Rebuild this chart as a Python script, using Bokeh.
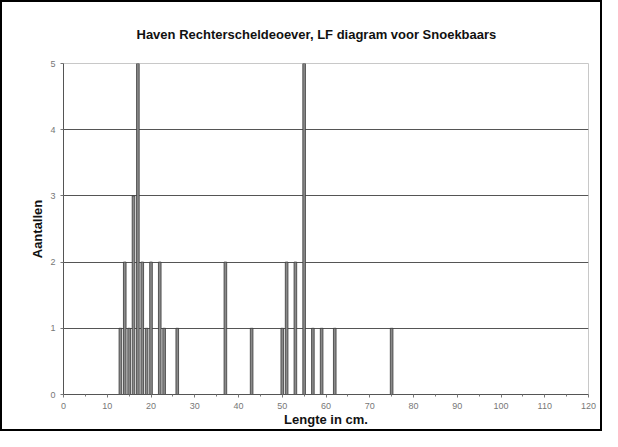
from bokeh.plotting import figure
from bokeh.models import ColumnDataSource, FixedTicker, Range1d
from bokeh.embed import file_html
from bokeh.resources import INLINE

lengths = [13, 14, 15, 16, 17, 18, 19, 20, 22, 23, 26, 37, 43, 50, 51, 53, 55, 57, 59, 62, 75]
counts = [1, 2, 1, 3, 5, 2, 1, 2, 2, 1, 1, 2, 1, 1, 2, 2, 5, 1, 1, 1, 1]
x_ticks = list(range(0, 121, 10))
y_ticks = [0, 1, 2, 3, 4, 5]

FONT = "Liberation Sans"

p = figure(width=602, height=431, output_backend="svg", toolbar_location=None,
           x_range=Range1d(0, 120), y_range=Range1d(0, 5),
           title="Haven Rechterscheldeoever, LF diagram voor Snoekbaars",
           min_border_left=61, min_border_right=16, min_border_top=60, min_border_bottom=39)
p.styles = {"border": "2px solid black", "box-sizing": "border-box"}

src = ColumnDataSource(dict(x=lengths, top=counts))
p.vbar(x="x", top="top", width=0.6, bottom=0, source=src,
       fill_color="#8a8a8a", line_color="#383838", line_width=0.8)

p.title.align = "left"
p.title.offset = 73
p.title.standoff = 44
p.title.text_font = FONT
p.title.text_font_size = "13px"
p.title.text_font_style = "bold"
p.title.text_color = "#111111"

p.xaxis.ticker = FixedTicker(ticks=x_ticks, minor_ticks=list(range(5, 120, 10)))
p.yaxis.ticker = FixedTicker(ticks=y_ticks)
p.xaxis.axis_label = "Lengte in cm."
p.yaxis.axis_label = "Aantallen"
for ax in (p.xaxis[0], p.yaxis[0]):
    ax.axis_label_text_font = FONT
    ax.axis_label_text_font_style = "bold"
    ax.axis_label_text_font_size = "13px"
    ax.axis_label_text_color = "#111111"
    ax.major_label_text_font = FONT
    ax.major_label_text_font_size = "9px"
    ax.major_label_text_color = "#777777"
    ax.axis_line_color = "#555555"
    ax.major_tick_line_color = "#777777"
    ax.minor_tick_line_color = "#777777"
    ax.major_tick_in = 0
    ax.major_tick_out = 3
    ax.minor_tick_in = 0
    ax.minor_tick_out = 2
p.yaxis.minor_tick_line_color = None
p.xaxis.axis_label_standoff = 0
p.yaxis.axis_label_standoff = 2

p.xgrid.grid_line_color = None
p.ygrid.grid_line_color = "#555555"
p.ygrid.ticker = FixedTicker(ticks=[1, 2, 3, 4])
p.outline_line_color = "#c8c8c8"
p.background_fill_color = "white"
p.border_fill_color = "white"

open("out.html", "w").write(file_html(p, INLINE))
